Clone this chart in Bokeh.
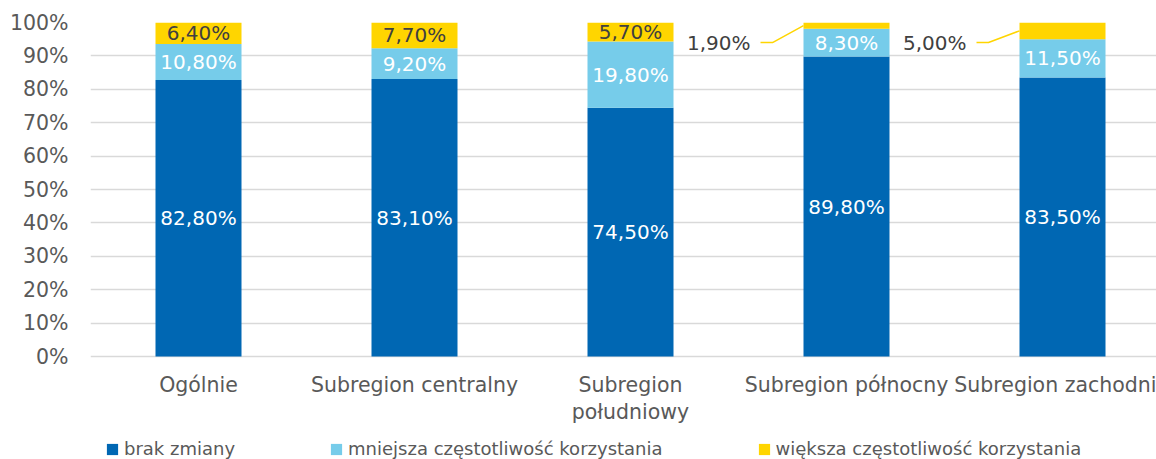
from bokeh.plotting import figure
from bokeh.models import (Range1d, FixedTicker, CustomJSTickFormatter, Legend,
                          LegendItem, ColumnDataSource)
from bokeh.core.properties import value
from bokeh.embed import file_html
from bokeh.resources import INLINE

# ---------------- data ----------------
categories = ["Ogólnie", "Subregion centralny", "Subregion\npołudniowy",
              "Subregion północny", "Subregion zachodni"]
brak_zmiany = [82.8, 83.1, 74.5, 89.8, 83.5]
mniejsza = [10.8, 9.2, 19.8, 8.3, 11.5]
wieksza = [6.4, 7.7, 5.7, 1.9, 5.0]
series_names = ["brak zmiany", "mniejsza częstotliwość korzystania",
                "większa częstotliwość korzystania"]
y_ticks = [0, 10, 20, 30, 40, 50, 60, 70, 80, 90, 100]

# ---------------- style ----------------
FONT = "DejaVu Sans"
C_DARK = "#0067B3"
C_LIGHT = "#76CCEA"
C_YELLOW = "#FFD500"
C_AXIS_TXT = "#595959"
C_LABEL_DARK = "#404040"
GRID = "#D9D9D9"

W, H = 1156, 459
LEFT, TOP = 90, 22
ZERO_PX = 356            # pixel row of the 0% line
BAND_PX = 216.0
BAR_PX = 86.0

frame_w = W - LEFT
x_end = frame_w / BAND_PX
bar_w = BAR_PX / BAND_PX
px_per_unit = (ZERO_PX - TOP) / 100.0
y_start = -(H - ZERO_PX) / px_per_unit

n = len(categories)
xs = [i + 0.5 for i in range(n)]

src = ColumnDataSource(dict(x=xs, brak=brak_zmiany, mniej=mniejsza, wiecej=wieksza))

p = figure(width=W, height=H, x_range=Range1d(0, x_end), y_range=Range1d(y_start, 100),
           output_backend="svg", toolbar_location=None,
           min_border_left=LEFT, min_border_right=0, min_border_top=TOP,
           min_border_bottom=0)
p.outline_line_color = None
p.background_fill_color = "white"
p.border_fill_color = "white"

rs = p.vbar_stack(["brak", "mniej", "wiecej"], x="x", width=bar_w, source=src,
                  color=[C_DARK, C_LIGHT, C_YELLOW], line_color=None)

# grid / axes
p.xgrid.grid_line_color = None
p.ygrid.ticker = FixedTicker(ticks=y_ticks)
p.ygrid.grid_line_color = GRID
p.ygrid.grid_line_width = 1.5
p.ygrid.level = "underlay"

p.yaxis.ticker = FixedTicker(ticks=y_ticks)
p.yaxis.formatter = CustomJSTickFormatter(code="return tick + '%';")
p.yaxis.axis_line_color = None
p.yaxis.major_tick_line_color = None
p.yaxis.minor_tick_line_color = None
p.yaxis.major_label_standoff = 16
p.yaxis.major_label_text_font = FONT
p.yaxis.major_label_text_font_size = "20.5px"
p.yaxis.major_label_text_color = C_AXIS_TXT

p.xaxis.fixed_location = 0
p.xaxis.ticker = FixedTicker(ticks=xs)
p.xaxis.formatter = CustomJSTickFormatter(args=dict(labels=categories),
                                          code="return labels[Math.round(tick - 0.5)];")
p.xaxis.axis_line_color = None
p.xaxis.major_tick_line_color = None
p.xaxis.minor_tick_line_color = None
p.xaxis.major_label_standoff = 10
p.xaxis.major_label_text_font = FONT
p.xaxis.major_label_text_font_size = "20.5px"
p.xaxis.major_label_text_line_height = 1.15
p.xaxis.major_label_text_color = C_AXIS_TXT

# ---------------- value labels ----------------
def fmt(v):
    return f"{v:.2f}".replace(".", ",") + "%"

in_x, in_y, in_t, in_c = [], [], [], []
out_x, out_y, out_t = [], [], []
lead_xs, lead_ys = [], []
for i in range(n):
    b, m, w = brak_zmiany[i], mniejsza[i], wieksza[i]
    c = xs[i]
    in_x += [c, c]
    in_y += [b / 2, b + m / 2]
    in_t += [fmt(b), fmt(m)]
    in_c += ["white", "white"]
    if w > 5.0:
        in_x.append(c)
        in_y.append(b + m + w / 2)
        in_t.append(fmt(w))
        in_c.append(C_LABEL_DARK)
    else:
        ly = 94.0
        out_x.append(c - 96 / BAND_PX)
        out_y.append(ly)
        out_t.append(fmt(w))
        lead_xs.append([c - 86 / BAND_PX, c - 74 / BAND_PX, c - bar_w / 2])
        lead_ys.append([ly, ly, b + m + w / 2])

p.text(x=in_x, y=in_y, text=in_t, text_color=in_c, text_align="center",
       text_baseline="middle", text_font=value(FONT), text_font_size="20px")
p.text(x=out_x, y=out_y, text=out_t, text_color=C_LABEL_DARK, text_align="right",
       text_baseline="middle", text_font=value(FONT), text_font_size="20px")
p.multi_line(xs=lead_xs, ys=lead_ys, line_color=C_YELLOW, line_width=1.5)

# ---------------- legend ----------------
legend = Legend(items=[LegendItem(label=series_names[k], renderers=[rs[k]]) for k in range(3)],
                orientation="horizontal", location=(15, 0))
legend.label_text_font = FONT
legend.label_text_font_size = "18px"
legend.label_text_color = C_AXIS_TXT
legend.label_height = 16
legend.glyph_width = 14
legend.glyph_height = 14
legend.label_standoff = 5
legend.spacing = 94
legend.padding = 0
legend.margin = 0
legend.border_line_color = None
legend.background_fill_alpha = 0
p.add_layout(legend, "center")

open("out.html", "w").write(file_html(p, INLINE))
